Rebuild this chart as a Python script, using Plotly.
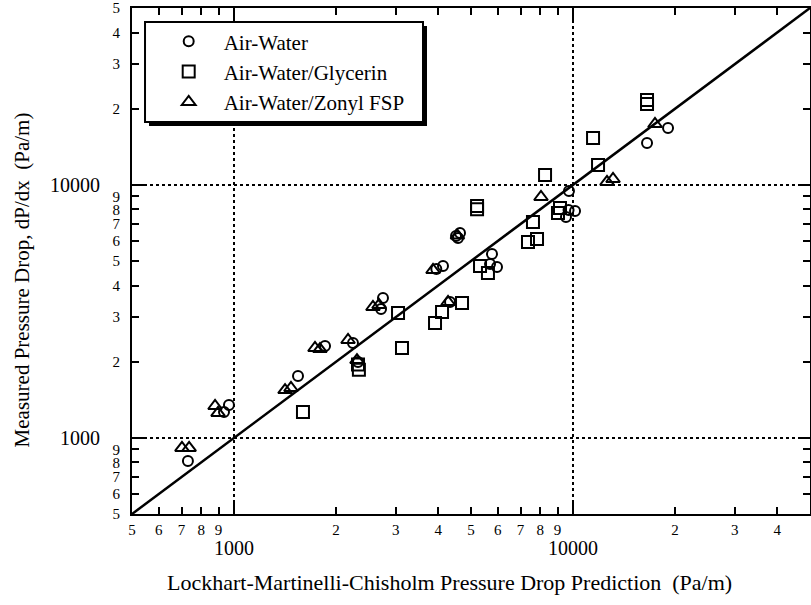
import math
import plotly.graph_objects as go

# ---- data (Pa/m) ----
aw_x = [731, 934, 966, 1544, 1855, 2243, 2321, 2750, 2714, 3950, 4134, 4336,
        4516, 4640, 4578, 5766, 5966, 5690, 9727, 9532, 9700, 10135, 16527, 19061]
aw_y = [810, 1265, 1349, 1756, 2307, 2371, 1995, 3571, 3231, 4650, 4777, 3443,
        6277, 6449, 6163, 5330, 4735, 4866, 9455, 7464, 7950, 7881, 14630, 16776]

gly_x = [1597, 2321, 2335, 3046, 3129, 3916, 4107, 4704, 5210, 5210, 5316, 5610,
         7364, 7829, 7617, 8268, 9151, 9028, 11850, 11455, 16527, 16527]
gly_y = [1265, 1950, 1860, 3116, 2265, 2844, 3144, 3411, 8250, 8000, 4780, 4483,
         5945, 6111, 7130, 10936, 8102, 7739, 11978, 15316, 21643, 20871]

zon_x = [702, 737, 879, 897, 1414, 1472, 1733, 1792, 2169, 2305, 2569, 2677,
         3863, 4278, 4560, 8043, 12594, 13120, 17447]
zon_y = [912, 912, 1336, 1254, 1545, 1574, 2265, 2244, 2436, 2030, 3290, 3350,
         4607, 3443, 6300, 8953, 10265, 10545, 17397]

line_xy = [500, 50000]  # y = x reference line

minor_vals = [500, 600, 700, 800, 900, 2000, 3000, 4000, 5000, 6000, 7000, 8000, 9000,
              20000, 30000, 40000, 50000]
minor_text = ['5', '6', '7', '8', '9', '2', '3', '4', '5', '6', '7', '8', '9',
              '2', '3', '4', '5']
major_vals = [1000, 10000]
major_text = ['1000', '10000']

FONT = 'Liberation Serif'
rng = [math.log10(500), math.log10(50000)]

fig = go.Figure()
fig.add_trace(go.Scatter(x=line_xy, y=line_xy, mode='lines', xaxis='x2', yaxis='y2',
                         line=dict(color='black', width=2.5), showlegend=False,
                         hoverinfo='skip'))
fig.add_trace(go.Scatter(x=aw_x, y=aw_y, mode='markers', name='Air-Water', legendgroup='a',
                         marker=dict(symbol='circle-open', size=10, color='black',
                                     line=dict(width=2, color='black'))))
fig.add_trace(go.Scatter(x=gly_x, y=gly_y, mode='markers', name='Air-Water/Glycerin',
                         legendgroup='b',
                         marker=dict(symbol='square-open', size=12, color='black',
                                     line=dict(width=2, color='black'))))
fig.add_trace(go.Scatter(x=zon_x, y=zon_y, mode='markers', name='Air-Water/Zonyl FSP',
                         legendgroup='c',
                         marker=dict(symbol='triangle-up-open', size=12, color='black',
                                     line=dict(width=2, color='black'))))

common = dict(type='log', range=rng, showline=True, linecolor='black', linewidth=2,
              mirror='ticks', ticks='inside', tickcolor='black', zeroline=False,
              automargin=False)
minor_font = dict(family=FONT, size=15, color='black')
major_font = dict(family=FONT, size=20, color='black')

fig.update_layout(
    width=811, height=605,
    margin=dict(l=132, r=1, t=8, b=91, autoexpand=False),
    paper_bgcolor='white', plot_bgcolor='white',
    font=dict(family=FONT, color='black'),
    xaxis=dict(**common, tickvals=minor_vals, ticktext=minor_text, ticklen=7, tickwidth=1.5,
               showgrid=False, tickfont=minor_font, ticklabelstandoff=1),
    yaxis=dict(**common, tickvals=minor_vals, ticktext=minor_text, ticklen=7, tickwidth=1.5,
               showgrid=False, tickfont=minor_font, ticklabelstandoff=7),
    xaxis2=dict(**common, overlaying='x', anchor='y2', side='bottom', tickvals=major_vals,
                ticktext=major_text, ticklen=12, tickwidth=1.5, showgrid=True,
                gridcolor='black', griddash='dot', gridwidth=1.5,
                tickfont=major_font, ticklabelstandoff=15),
    yaxis2=dict(**common, overlaying='y', anchor='x2', side='left', tickvals=major_vals,
                ticktext=major_text, ticklen=12, tickwidth=1.5, showgrid=True,
                gridcolor='black', griddash='dot', gridwidth=1.5,
                tickfont=major_font, ticklabelstandoff=26),
    legend=dict(x=0.032, y=0.974, xanchor='left', yanchor='top', bgcolor='rgba(0,0,0,0)',
                borderwidth=0, font=dict(family=FONT, size=21, color='black'),
                tracegroupgap=0, itemwidth=60),
    showlegend=True,
)

# legend frame with drop shadow
fig.add_shape(type='rect', xref='paper', yref='paper', x0=0.0251, x1=0.4351,
              y0=0.7668, y1=0.9644, fillcolor='black', line=dict(width=0), layer='above')
fig.add_shape(type='rect', xref='paper', yref='paper', x0=0.0192, x1=0.4292,
              y0=0.7747, y1=0.9723, fillcolor='white', line=dict(color='black', width=2),
              layer='above')

fig.add_annotation(text='Lockhart-Martinelli-Chisholm Pressure Drop Prediction  (Pa/m)',
                   xref='paper', yref='paper', x=0.469, y=-0.136, showarrow=False,
                   xanchor='center', yanchor='middle',
                   font=dict(family=FONT, size=22, color='black'))
fig.add_annotation(text='Measured Pressure Drop, dP/dx  (Pa/m)', textangle=-90,
                   xref='paper', yref='paper', x=-0.162, y=0.462, showarrow=False,
                   xanchor='center', yanchor='middle',
                   font=dict(family=FONT, size=21, color='black'))

fig.write_html('out.html', config={'displayModeBar': False},
               post_script="document.body.style.margin='0px';document.body.style.overflow='hidden';")
